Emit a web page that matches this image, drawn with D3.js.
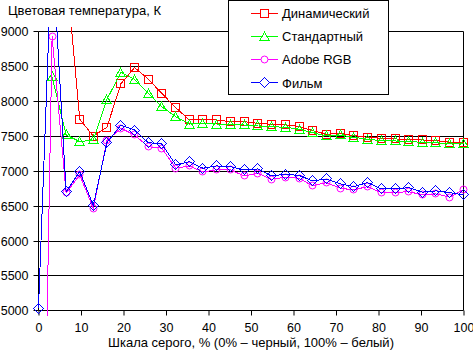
<!DOCTYPE html>
<html>
<head>
<meta charset="utf-8">
<script src="https://cdn.jsdelivr.net/npm/d3@7"></script>
<style>
  body { margin: 0; background: #fff; }
  svg { display: block; font-family: "Liberation Sans", Arial, sans-serif; }
</style>
</head>
<body>
<script>
// grey level, % (32 steps)
const grey = [0, 3.2, 6.5, 9.7, 12.9, 16.1, 19.4, 22.6, 25.8, 29.0, 32.3, 35.5, 38.7, 41.9, 45.2, 48.4,
              51.6, 54.8, 58.1, 61.3, 64.5, 67.7, 71.0, 74.2, 77.4, 80.6, 83.9, 87.1, 90.3, 93.5, 96.8, 100];

// colour temperature, K
const dynamicK = [null, 11000, 9900, 7744, 7504, 7629, 8253, 8485, 8320, 8116, 7910, 7734, 7744, 7734, 7709, 7709,
                  7686, 7672, 7662, 7642, 7581, 7529, 7543, 7509, 7486, 7472, 7462, 7457, 7447, 7438, 7415, 7415];
const standardK = [null, 8353, 7520, 7424, 7447, 8030, 8413, 8316, 8116, 7925, 7781, 7676, 7686, 7676, 7662, 7662,
                   7648, 7638, 7629, 7602, 7553, 7505, 7519, 7486, 7457, 7438, 7433, 7424, 7414, 7409, 7390, 7390];
const adobeK = [-2000, 8930, 6690, 6946, 6470, 7440, 7615, 7519, 7352, 7329, 7042, 7075, 6990, 7020, 7018, 6932,
                6970, 6885, 6913, 6899, 6789, 6837, 6756, 6732, 6780, 6694, 6694, 6708, 6660, 6675, 6627, 6735];
const filmK = [5040, 10250, 6705, 6994, 6507, 7409, 7660, 7590, 7409, 7390, 7090, 7137, 7042, 7075, 7066, 7018,
               7032, 6932, 6956, 6940, 6861, 6889, 6818, 6780, 6837, 6746, 6746, 6765, 6699, 6718, 6694, 6660];

const yTicks = [5000, 5500, 6000, 6500, 7000, 7500, 8000, 8500, 9000];
const xTicks = [0, 10, 20, 30, 40, 50, 60, 70, 80, 90, 100];

const seriesNames = ["Динамический", "Стандартный", "Adobe RGB", "Фильм"];
const seriesColors = ["#ff0000", "#00ff00", "#ff00ff", "#0000ff"];
const seriesMarkers = ["square", "triangle", "circle", "diamond"];
const seriesValues = [dynamicK, standardK, adobeK, filmK];

const W = 473, H = 354;
const svg = d3.select("body").append("svg").attr("width", W).attr("height", H);

const x = d3.scaleLinear().domain([0, 100]).range([38.5, 463.5]);
const y = d3.scaleLinear().domain([5000, 9000]).range([310.8, 31.6]);
const snap = v => Math.round(v - 0.5) + 0.5;

// gridlines + y ticks
const yAxis = d3.axisLeft(y).tickValues(yTicks).tickSize(5).tickPadding(5).tickFormat(d3.format("d"));
const gy = svg.append("g").attr("transform", "translate(38.5,0)").call(yAxis);
gy.select(".domain").remove();
gy.selectAll(".tick").attr("transform", d => `translate(0,${snap(y(d))})`);
gy.selectAll(".tick line").attr("stroke", "#000");
gy.selectAll(".tick text").attr("font-size", 12.5).attr("font-family", null).attr("fill", "#000").attr("dy", "0.35em");

svg.append("g").selectAll("line").data(yTicks).join("line")
  .attr("x1", 38.5).attr("x2", 463.5)
  .attr("y1", d => snap(y(d))).attr("y2", d => snap(y(d)))
  .attr("stroke", "#000");

// x axis
const xAxis = d3.axisBottom(x).tickValues(xTicks).tickSize(5).tickPadding(8).tickFormat(d3.format("d"));
const gx = svg.append("g").attr("transform", `translate(0,${snap(y(5000))})`).call(xAxis);
gx.select(".domain").remove();
gx.selectAll(".tick line").attr("stroke", "#000");
gx.selectAll(".tick text").attr("font-size", 12.5).attr("font-family", null).attr("fill", "#000");

// plot frame (left axis and right border)
[x(0), x(100)].forEach(px => {
  svg.append("line").attr("x1", px).attr("x2", px)
    .attr("y1", snap(y(9000))).attr("y2", snap(y(5000))).attr("stroke", "#000");
});

// titles
svg.append("text").attr("x", 8).attr("y", 15).attr("font-size", 13).text("Цветовая температура, К");
svg.append("text").attr("x", 251).attr("y", 347).attr("font-size", 13).attr("text-anchor", "middle")
  .text("Шкала серого, % (0% – черный, 100% – белый)");

// series
svg.append("clipPath").attr("id", "plotClip").append("rect")
  .attr("x", 30).attr("y", 27).attr("width", 440).attr("height", 289);

function markerPath(kind) {
  if (kind === "square") return "M-4,-4H4V4H-4Z";
  if (kind === "triangle") return "M0,-4.5L4.5,3.5H-4.5Z";
  if (kind === "diamond") return "M0,-5L5,0L0,5L-5,0Z";
  return d3.symbol(d3.symbolCircle, 38)();
}
const markerRendering = kind => (kind === "circle" ? "auto" : "crispEdges");

const plot = svg.append("g").attr("clip-path", "url(#plotClip)");
const line = d3.line().defined(d => d[1] !== null).x(d => x(d[0])).y(d => y(d[1]));

seriesValues.forEach((vals, k) => {
  const pts = grey.map((g, i) => [g, vals[i]]);
  plot.append("path").datum(pts).attr("d", line)
    .attr("fill", "none").attr("stroke", seriesColors[k]).attr("stroke-width", 1)
    .attr("shape-rendering", "crispEdges");
  plot.append("g").selectAll("path").data(pts.filter(d => d[1] !== null)).join("path")
    .attr("transform", d => `translate(${snap(x(d[0]))},${snap(y(d[1]))})`)
    .attr("d", markerPath(seriesMarkers[k]))
    .attr("fill", "none").attr("stroke", seriesColors[k]).attr("stroke-width", 1)
    .attr("shape-rendering", markerRendering(seriesMarkers[k]));
});

// legend
const lg = svg.append("g");
lg.append("rect").attr("x", 228.5).attr("y", 0.5).attr("width", 160).attr("height", 94)
  .attr("fill", "#fff").attr("stroke", "#000");
seriesNames.forEach((name, k) => {
  const cy = 13 + k * 23.3;
  lg.append("line").attr("x1", 251).attr("x2", 278).attr("y1", snap(cy)).attr("y2", snap(cy))
    .attr("stroke", seriesColors[k]);
  lg.append("path").attr("transform", `translate(264.5,${snap(cy)})`)
    .attr("d", markerPath(seriesMarkers[k])).attr("fill", "#fff").attr("stroke", seriesColors[k])
    .attr("shape-rendering", markerRendering(seriesMarkers[k]));
  lg.append("text").attr("x", 282).attr("y", cy + 4.6).attr("font-size", 13).text(name);
});
</script>
</body>
</html>
